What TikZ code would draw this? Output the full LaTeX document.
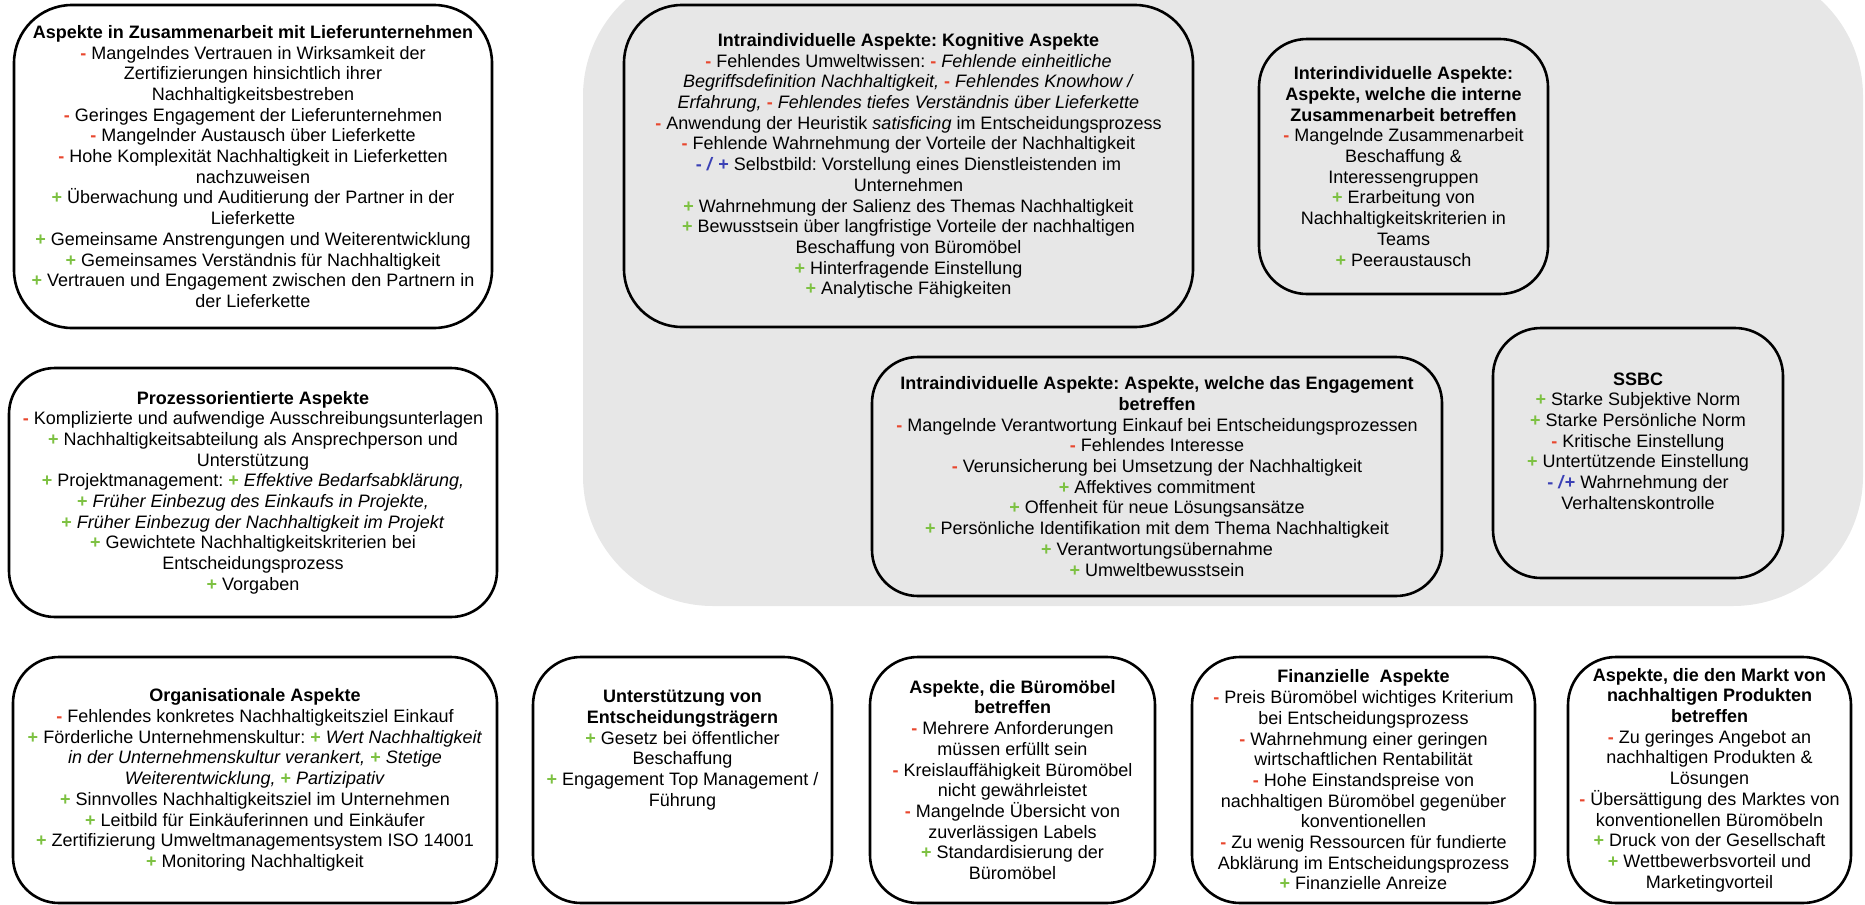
\documentclass[tikz,border=0pt]{standalone}
\usepackage{fontspec}
\setmainfont{Liberation Sans}
\frenchspacing
\definecolor{minusred}{HTML}{E8472E}
\definecolor{plusgreen}{HTML}{7DC142}
\definecolor{mixblue}{HTML}{3A40B5}
\definecolor{panelgrey}{HTML}{E7E7E7}
\newcommand{\mns}{\textcolor{minusred}{\textbf{-}}}
\newcommand{\pls}{\textcolor{plusgreen}{\textbf{+}}}
\newcommand{\mixsign}[1]{\textcolor{mixblue}{\textbf{#1}}}
\tikzset{
  panel/.style={draw=black, line width=1.3pt, inner sep=0pt},
  txt/.style={align=center, inner sep=0pt, font=\fontsize{9}{10.35}\selectfont},
}
\begin{document}
\begin{tikzpicture}[x=0.5pt, y=-0.5pt]
\useasboundingbox (0,0) rectangle (1865,905);

% shaded area for the individual-level aspects
\begin{scope}
  \clip (0,0) rectangle (1865,905);
  \fill[panelgrey, rounded corners=65pt] (583,-34) rectangle (1863,606);
\end{scope}

% ---- left column ----
\node[panel, minimum width=239pt, minimum height=161.5pt, rounded corners=29pt] (lief) at (253,166.5) {};
\node[txt] (lieftxt) at (lief.center) {%
\textbf{Aspekte in Zusammenarbeit mit Lieferunternehmen}\\
\mns{} Mangelndes Vertrauen in Wirksamkeit der\\
Zertifizierungen hinsichtlich ihrer\\
Nachhaltigkeitsbestreben\\
\mns{} Geringes Engagement der Lieferunternehmen\\
\mns{} Mangelnder Austausch über Lieferkette\\
\mns{} Hohe Komplexität Nachhaltigkeit in Lieferketten\\
nachzuweisen\\
\pls{} Überwachung und Auditierung der Partner in der\\
Lieferkette\\
\pls{} Gemeinsame Anstrengungen und Weiterentwicklung\\
\pls{} Gemeinsames Verständnis für Nachhaltigkeit\\
\pls{} Vertrauen und Engagement zwischen den Partnern in\\
der Lieferkette};

\node[panel, minimum width=244pt, minimum height=124.5pt, rounded corners=23pt] (proz) at (253,492.5) {};
\node[txt] (proztxt) at (proz.center) {%
\textbf{Prozessorientierte Aspekte}\\
\mns{} Komplizierte und aufwendige Ausschreibungsunterlagen\\
\pls{} Nachhaltigkeitsabteilung als Ansprechperson und\\
Unterstützung\\
\pls{} Projektmanagement: \pls{} \textit{Effektive Bedarfsabklärung,}\\
\pls{} \textit{Früher Einbezug des Einkaufs in Projekte,}\\
\pls{} \textit{Früher Einbezug der Nachhaltigkeit im Projekt}\\
\pls{} Gewichtete Nachhaltigkeitskriterien bei\\
Entscheidungsprozess\\
\pls{} Vorgaben};

\node[panel, minimum width=242pt, minimum height=123pt, rounded corners=23pt] (orga) at (255,780) {};
\node[txt] (orgatxt) at (orga.center) {%
\textbf{Organisationale Aspekte}\\
\mns{} Fehlendes konkretes Nachhaltigkeitsziel Einkauf\\
\pls{} Förderliche Unternehmenskultur: \pls{} \textit{Wert Nachhaltigkeit}\\
\textit{in der Unternehmenskultur verankert,} \pls{} \textit{Stetige}\\
\textit{Weiterentwicklung,} \pls{} \textit{Partizipativ}\\
\pls{} Sinnvolles Nachhaltigkeitsziel im Unternehmen\\
\pls{} Leitbild für Einkäuferinnen und Einkäufer\\
\pls{} Zertifizierung Umweltmanagementsystem ISO 14001\\
\pls{} Monitoring Nachhaltigkeit};

% ---- boxes inside the shaded area ----
\node[panel, minimum width=284.5pt, minimum height=161pt, rounded corners=29pt] (kogn) at (908.5,166) {};
\node[txt] (kogntxt) at (kogn.center) {%
\textbf{Intraindividuelle Aspekte: Kognitive Aspekte}\\
\mns{} Fehlendes Umweltwissen: \mns{} \textit{Fehlende einheitliche}\\
\textit{Begriffsdefinition Nachhaltigkeit,} \mns{} \textit{Fehlendes Knowhow /}\\
\textit{Erfahrung,} \mns{} \textit{Fehlendes tiefes Verständnis über Lieferkette}\\
\mns{} Anwendung der Heuristik \textit{satisficing} im Entscheidungsprozess\\
\mns{} Fehlende Wahrnehmung der Vorteile der Nachhaltigkeit\\
\mixsign{- \textit{/} +} Selbstbild: Vorstellung eines Dienstleistenden im\\
Unternehmen\\
\pls{} Wahrnehmung der Salienz des Themas Nachhaltigkeit\\
\pls{} Bewusstsein über langfristige Vorteile der nachhaltigen\\
Beschaffung von Büromöbel\\
\pls{} Hinterfragende Einstellung\\
\pls{} Analytische Fähigkeiten};

\node[panel, minimum width=144.5pt, minimum height=127.5pt, rounded corners=24pt] (inter) at (1403.5,166.5) {};
\node[txt] (intertxt) at (inter.center) {%
\textbf{Interindividuelle Aspekte:}\\
\textbf{Aspekte, welche die interne}\\
\textbf{Zusammenarbeit betreffen}\\
\mns{} Mangelnde Zusammenarbeit\\
Beschaffung \&\\
Interessengruppen\\
\pls{} Erarbeitung von\\
Nachhaltigkeitskriterien in\\
Teams\\
\pls{} Peeraustausch};

\node[panel, minimum width=285pt, minimum height=119.5pt, rounded corners=23pt] (enga) at (1157,476.5) {};
\node[txt] (engatxt) at (enga.center) {%
\textbf{Intraindividuelle Aspekte: Aspekte, welche das Engagement}\\
\textbf{betreffen}\\
\mns{} Mangelnde Verantwortung Einkauf bei Entscheidungsprozessen\\
\mns{} Fehlendes Interesse\\
\mns{} Verunsicherung bei Umsetzung der Nachhaltigkeit\\
\pls{} Affektives commitment\\
\pls{} Offenheit für neue Lösungsansätze\\
\pls{} Persönliche Identifikation mit dem Thema Nachhaltigkeit\\
\pls{} Verantwortungsübernahme\\
\pls{} Umweltbewusstsein};

\node[panel, minimum width=145pt, minimum height=125pt, rounded corners=24pt] (ssbc) at (1638,453) {};
\node[txt] (ssbctxt) at (1638,441) {%
\textbf{SSBC}\\
\pls{} Starke Subjektive Norm\\
\pls{} Starke Persönliche Norm\\
\mns{} Kritische Einstellung\\
\pls{} Untertützende Einstellung\\
\mixsign{- \textit{/}+} Wahrnehmung der\\
Verhaltenskontrolle};

% ---- bottom row ----
\node[panel, minimum width=149.5pt, minimum height=123pt, rounded corners=24pt] (unter) at (682.5,780) {};
\node[txt] (untertxt) at (682.5,750) {%
\textbf{Unterstützung von}\\
\textbf{Entscheidungsträgern}\\
\pls{} Gesetz bei öffentlicher\\
Beschaffung\\
\pls{} Engagement Top Management /\\
Führung};

\node[panel, minimum width=142.5pt, minimum height=123pt, rounded corners=24pt] (buero) at (1012.5,780) {};
\node[txt] (buerotxt) at (buero.center) {%
\textbf{Aspekte, die Büromöbel}\\
\textbf{betreffen}\\
\mns{} Mehrere Anforderungen\\
müssen erfüllt sein\\
\mns{} Kreislauffähigkeit Büromöbel\\
nicht gewährleistet\\
\mns{} Mangelnde Übersicht von\\
zuverlässigen Labels\\
\pls{} Standardisierung der\\
Büromöbel};

\node[panel, minimum width=171.5pt, minimum height=123pt, rounded corners=24pt] (finanz) at (1363.5,780) {};
\node[txt] (finanztxt) at (finanz.center) {%
\textbf{Finanzielle\ \ Aspekte}\\
\mns{} Preis Büromöbel wichtiges Kriterium\\
bei Entscheidungsprozess\\
\mns{} Wahrnehmung einer geringen\\
wirtschaftlichen Rentabilität\\
\mns{} Hohe Einstandspreise von\\
nachhaltigen Büromöbel gegenüber\\
konventionellen\\
\mns{} Zu wenig Ressourcen für fundierte\\
Abklärung im Entscheidungsprozess\\
\pls{} Finanzielle Anreize};

\node[panel, minimum width=141.5pt, minimum height=123pt, rounded corners=24pt] (markt) at (1709.5,780) {};
\node[txt] (markttxt) at (markt.center) {%
\textbf{Aspekte, die den Markt von}\\
\textbf{nachhaltigen Produkten}\\
\textbf{betreffen}\\
\mns{} Zu geringes Angebot an\\
nachhaltigen Produkten \&\\
Lösungen\\
\mns{} Übersättigung des Marktes von\\
konventionellen Büromöbeln\\
\pls{} Druck von der Gesellschaft\\
\pls{} Wettbewerbsvorteil und\\
Marketingvorteil};
\end{tikzpicture}
\end{document}
